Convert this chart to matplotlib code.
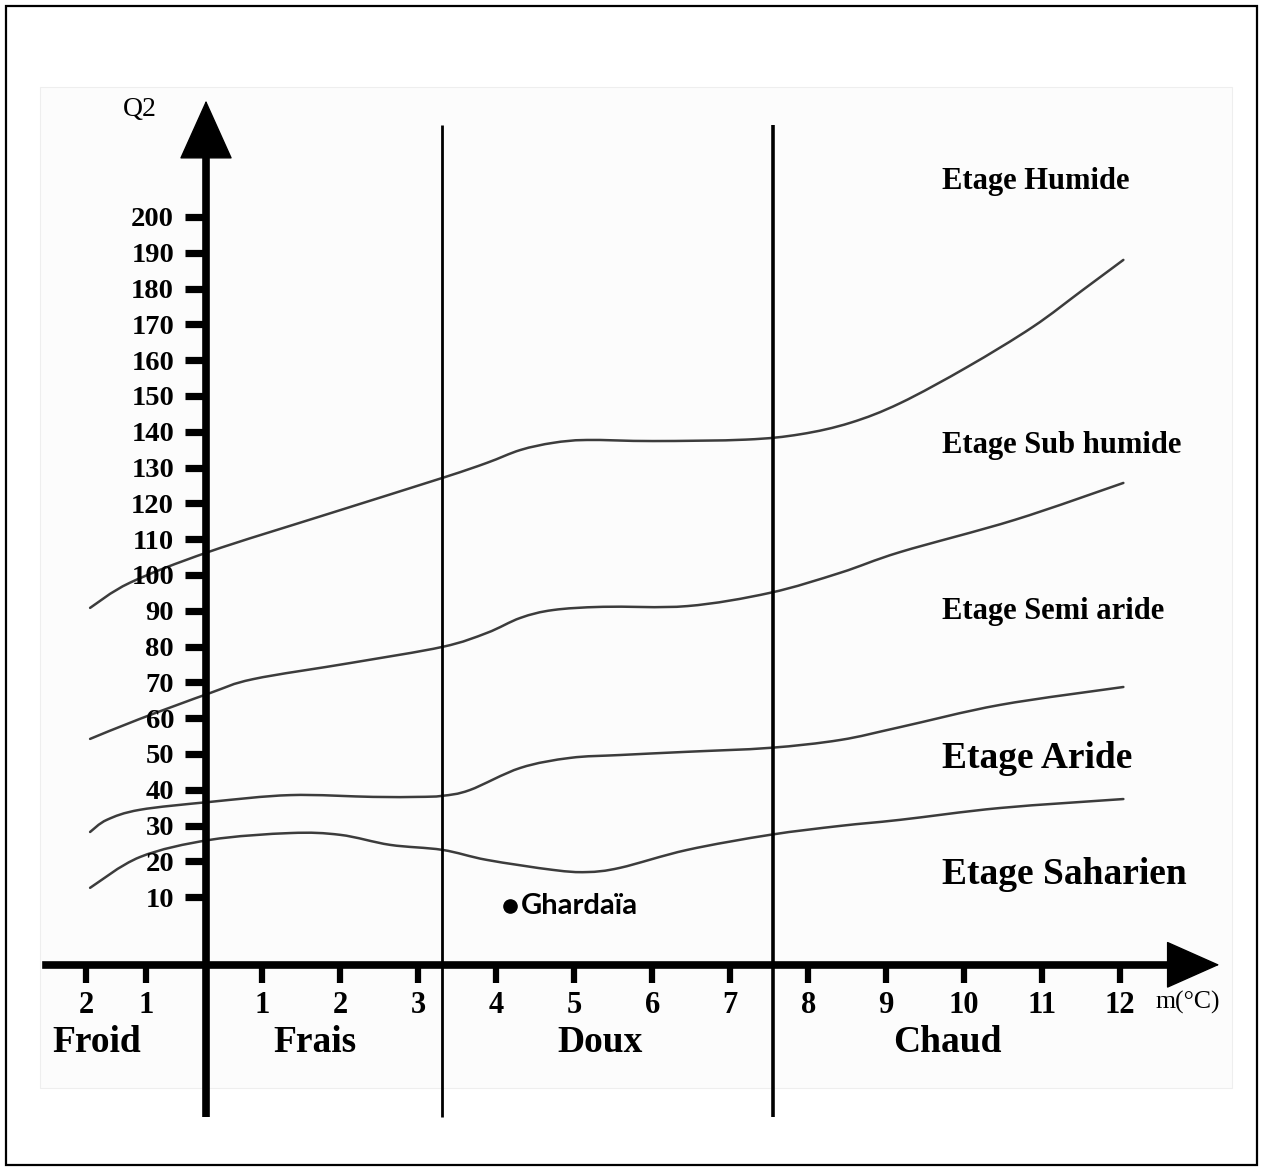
import numpy as np
import matplotlib
matplotlib.use("Agg")
import matplotlib.pyplot as plt
from matplotlib.patches import Rectangle, PathPatch
from matplotlib.path import Path

# ---------------- data ----------------
q2_ticks = [10, 20, 30, 40, 50, 60, 70, 80, 90, 100,
            110, 120, 130, 140, 150, 160, 170, 180, 190, 200]
m_ticks = [-2, -1, 1, 2, 3, 4, 5, 6, 7, 8, 9, 10, 11, 12]
m_tick_labels = ["2", "1", "1", "2", "3", "4", "5", "6", "7", "8", "9", "10", "11", "12"]

zone_names = ["Froid", "Frais", "Doux", "Chaud"]
zone_bounds = [3.3, 7.55]

etage_names = ["Etage Humide", "Etage Sub humide", "Etage Semi aride",
               "Etage Aride", "Etage Saharien"]

# boundary Humide / Sub humide
humide_m = [-1.93, -1.27, 0.04, 1.81, 3.31, 3.88, 4.31, 4.73, 5.16, 6.01,
            7.20, 7.90, 8.54, 9.18, 10.04, 10.88, 11.52, 12.04]
humide_q2 = [90.8, 97.8, 106.4, 116.8, 127.1, 131.3, 134.9, 136.9, 137.7, 137.4,
             137.8, 139.3, 142.5, 148.0, 158.1, 169.3, 179.6, 188.0]

# boundary Sub humide / Semi aride
subhum_m = [-1.93, -1.10, 0.07, 0.84, 2.13, 3.31, 3.88, 4.31, 4.73, 5.37,
            6.45, 7.51, 8.41, 9.18, 10.65, 12.04]
subhum_q2 = [54.2, 59.8, 67.0, 70.9, 75.4, 79.9, 83.8, 88.0, 90.2, 91.1,
             91.3, 95.0, 100.6, 106.4, 115.4, 125.7]

# boundary Semi aride / Aride
semi_m = [-1.93, -1.65, -1.10, 0.07, 1.36, 2.42, 2.99, 3.31, 3.66, 4.31,
          4.95, 5.59, 6.45, 7.51, 8.41, 9.18, 10.46, 12.04]
semi_q2 = [28.2, 31.6, 34.4, 36.6, 38.5, 38.0, 38.0, 38.3, 39.9, 46.1,
           48.9, 49.7, 50.6, 51.7, 53.9, 57.5, 63.7, 68.7]

# boundary Aride / Saharien
aride_m = [-1.93, -1.10, 0.07, 1.36, 2.00, 2.64, 3.31, 3.88, 4.73, 5.16,
           5.59, 6.45, 7.51, 8.41, 9.18, 10.46, 12.04]
aride_q2 = [12.6, 21.2, 26.0, 27.9, 27.4, 24.6, 23.2, 20.4, 17.6, 17.0,
            18.2, 23.2, 27.4, 29.9, 31.6, 34.9, 37.4]

station_name = "Ghardaïa"
station_m = 4.18
station_q2 = 7.5

# ---------------- layout ----------------
W, H = 1263, 1171
fig = plt.figure(figsize=(W / 100, H / 100), dpi=100)
fig.patch.set_facecolor("white")
ax = fig.add_axes([0, 0, 1, 1])
ax.set_facecolor("none")


def fwd(x):
    x = np.asarray(x, dtype=float)
    return np.where(x < 0, 0.77 * x, np.where(x < 1, 0.72 * x, x - 0.28))


def inv(u):
    u = np.asarray(u, dtype=float)
    return np.where(u < 0, u / 0.77, np.where(u < 0.72, u / 0.72, u + 0.28))


ax.set_xscale("function", functions=(fwd, inv))
ax.set_xlim(-3.43, 13.83)
ax.set_ylim(-66.5, 260.6)

X_AXIS_Q2 = -8.9

for s in ["top", "right"]:
    ax.spines[s].set_visible(False)
ax.spines["left"].set_position(("data", 0))
ax.spines["bottom"].set_position(("data", X_AXIS_Q2))
ax.spines["left"].set_linewidth(5.5)
ax.spines["bottom"].set_linewidth(5.5)
ax.spines["left"].set_bounds(-51.4, 220)
ax.spines["bottom"].set_bounds(-2.66, 12.8)
ax.spines["left"].set_capstyle("butt")

ax.set_xticks(m_ticks, m_tick_labels)
ax.set_yticks(q2_ticks, [str(v) for v in q2_ticks])
ax.tick_params(axis="y", direction="out", length=15, width=5.2, pad=8, labelsize=20.5)
ax.tick_params(axis="x", direction="out", length=13, width=4.5, pad=6, labelsize=22)
for lab in ax.get_xticklabels() + ax.get_yticklabels():
    lab.set_fontfamily("Liberation Serif")
    lab.set_fontweight("bold")

# arrow heads
ax.annotate("", xy=(0, 232.5), xytext=(0, 214),
            arrowprops=dict(arrowstyle="-|>,head_length=40,head_width=18",
                            mutation_scale=1, lw=1, color="black",
                            shrinkA=0, shrinkB=0))
ax.annotate("", xy=(13.27, X_AXIS_Q2), xytext=(12.55, X_AXIS_Q2),
            arrowprops=dict(arrowstyle="-|>,head_length=36,head_width=16",
                            mutation_scale=1, lw=1, color="black",
                            shrinkA=0, shrinkB=0))

# zone separators
ax.vlines(zone_bounds, -51.4, 225.7, colors="black", linewidths=[2.0, 2.6])


# curves: smooth cubic path through the read points (in scaled x space)
def smooth_path(mm, qq):
    u = fwd(np.asarray(mm, float))
    q = np.asarray(qq, float)
    pts = np.column_stack([u, q])
    n = len(pts)
    verts = [pts[0]]
    codes = [Path.MOVETO]
    for i in range(n - 1):
        p0 = pts[i - 1] if i > 0 else pts[i]
        p1 = pts[i]
        p2 = pts[i + 1]
        p3 = pts[i + 2] if i + 2 < n else pts[i + 1]
        c1 = p1 + (p2 - p0) / 6.0
        c2 = p2 - (p3 - p1) / 6.0
        verts += [c1, c2, p2]
        codes += [Path.CURVE4] * 3
    verts = np.array(verts)
    verts[:, 0] = inv(verts[:, 0])
    return Path(verts, codes)


for mm, qq in [(humide_m, humide_q2), (subhum_m, subhum_q2),
               (semi_m, semi_q2), (aride_m, aride_q2)]:
    ax.add_patch(PathPatch(smooth_path(mm, qq), facecolor="none",
                           edgecolor="#3c3c3c", lw=1.8, capstyle="round",
                           joinstyle="round"))

# station
ax.plot([station_m], [station_q2], "o", color="black", ms=9.5)
ax.annotate(station_name, (station_m, station_q2), xytext=(8, 0),
            textcoords="offset points", ha="left", va="center",
            family="Lato", fontweight="bold", fontsize=21)


def fx(px):
    return px / W


def fy(py):
    return 1 - py / H


fig.text(fx(140), fy(109), "Q2", ha="center", va="center",
         family="Liberation Serif", fontsize=20)
fig.text(fx(1188), fy(1002), "m(°C)", ha="center", va="center",
         family="Liberation Serif", fontsize=18.5)

zone_px = [97, 315, 600, 947]
for name, px in zip(zone_names, zone_px):
    fig.text(fx(px), fy(1043), name, ha="center", va="center",
             family="Liberation Serif", fontweight="bold", fontsize=27)

etage_py = [182, 445, 612, 758, 875]
etage_fs = [22, 22, 22, 27, 27]
for name, py, fs in zip(etage_names, etage_py, etage_fs):
    fig.text(fx(942), fy(py), name, ha="left", va="center",
             family="Liberation Serif", fontweight="bold", fontsize=fs)

# background panel and border
fig.patches.append(Rectangle((fx(40), fy(1088)), (1232 - 40) / W, (1088 - 87) / H,
                             transform=fig.transFigure, facecolor="#fcfcfc",
                             edgecolor="#eeeeee", lw=0.8, zorder=-10))
fig.patches.append(Rectangle((fx(6), fy(1165)), (1257 - 6) / W, (1165 - 6) / H,
                             transform=fig.transFigure, fill=False,
                             edgecolor="black", lw=1.6, zorder=10))

fig.savefig("out.png", dpi=100)
